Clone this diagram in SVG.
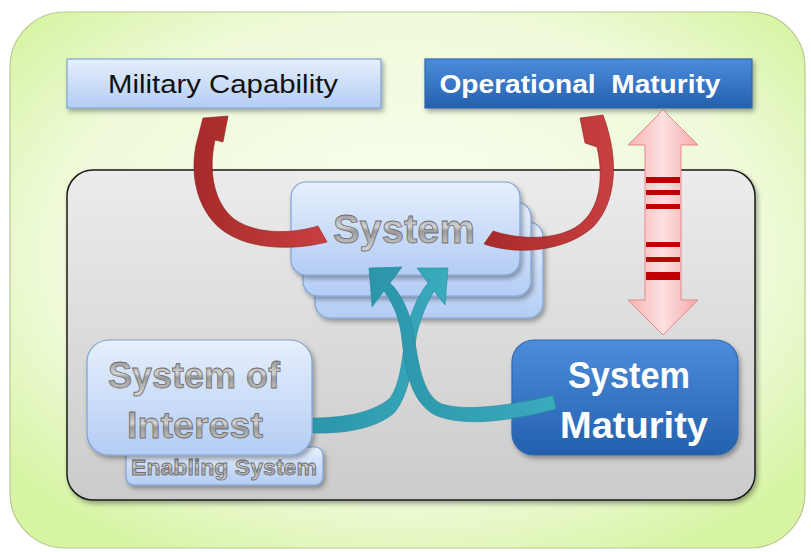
<svg xmlns="http://www.w3.org/2000/svg" width="811" height="552" viewBox="0 0 811 552">
<defs>
  <radialGradient id="gGreen" cx="50%" cy="45%" r="65%">
    <stop offset="0" stop-color="#fbfef4"/>
    <stop offset="0.7" stop-color="#eefad8"/>
    <stop offset="1" stop-color="#d6f4a2"/>
  </radialGradient>
  <linearGradient id="gLight" x1="0" y1="0" x2="0" y2="1">
    <stop offset="0" stop-color="#e6effc"/>
    <stop offset="1" stop-color="#b3cdf4"/>
  </linearGradient>
  <linearGradient id="gDark" x1="0" y1="0" x2="0" y2="1">
    <stop offset="0" stop-color="#4d8ddb"/>
    <stop offset="1" stop-color="#2360ad"/>
  </linearGradient>
  <linearGradient id="gGray" x1="0" y1="0" x2="0" y2="1">
    <stop offset="0" stop-color="#ececec"/>
    <stop offset="1" stop-color="#cbcbcb"/>
  </linearGradient>
  <linearGradient id="gMetal" x1="0" y1="0" x2="0" y2="1">
    <stop offset="0" stop-color="#7c7c7c"/>
    <stop offset="0.45" stop-color="#d4d4d4"/>
    <stop offset="0.55" stop-color="#9a9a9a"/>
    <stop offset="1" stop-color="#d8d8d8"/>
  </linearGradient>
  <linearGradient id="gPink" x1="0" y1="0" x2="1" y2="0">
    <stop offset="0" stop-color="#f6b3b3"/>
    <stop offset="0.5" stop-color="#fde0e0"/>
    <stop offset="1" stop-color="#f4a9a9"/>
  </linearGradient>
  <linearGradient id="gRed" x1="0" y1="0" x2="1" y2="0">
    <stop offset="0" stop-color="#a82a2a"/>
    <stop offset="1" stop-color="#c84040"/>
  </linearGradient>
  <linearGradient id="gTeal" x1="0" y1="0" x2="1" y2="0">
    <stop offset="0" stop-color="#2b95aa"/>
    <stop offset="1" stop-color="#3aaabd"/>
  </linearGradient>
  <filter id="shadow" x="-10%" y="-10%" width="125%" height="130%">
    <feGaussianBlur in="SourceAlpha" stdDeviation="2.5"/>
    <feOffset dx="2" dy="3" result="b"/>
    <feComponentTransfer><feFuncA type="linear" slope="0.35"/></feComponentTransfer>
    <feMerge><feMergeNode/><feMergeNode in="SourceGraphic"/></feMerge>
  </filter>
</defs>
<style>
  .light { fill: url(#gLight); stroke: #7fa3d6; stroke-width: 1.2; filter: url(#shadow); }
  .dark { fill: url(#gDark); stroke: #3266ad; stroke-width: 1.2; filter: url(#shadow); }
  .metal { font-family: "Liberation Sans", Arial, sans-serif; font-weight: bold; fill: url(#gMetal); stroke: #6f6f6f; stroke-width: 0.8; text-anchor: middle; }
  .white { font-family: "Liberation Sans", Arial, sans-serif; font-weight: bold; fill: #ffffff; text-anchor: middle; }
  .plain { font-family: "Liberation Sans", Arial, sans-serif; fill: #111111; text-anchor: middle; }
  .red { fill: url(#gRed); stroke: #8f2020; stroke-width: 0.6; }
  .teal { fill: url(#gTeal); stroke: #23889c; stroke-width: 0.6; }
  .stripe { fill: #c00000; }
</style>

<rect x="10" y="12" width="795" height="536" rx="55" fill="url(#gGreen)" stroke="#b9c994" stroke-width="1.2"/>

<g id="military-capability">
  <rect class="light" x="67" y="59" width="314" height="49"/>
  <text class="plain" x="223" y="93" font-size="25" textLength="230" lengthAdjust="spacingAndGlyphs">Military Capability</text>
</g>

<g id="operational-maturity">
  <rect class="dark" x="425" y="59" width="327" height="49"/>
  <text class="white" x="580" y="93" font-size="25" textLength="281" lengthAdjust="spacingAndGlyphs" xml:space="preserve">Operational  Maturity</text>
</g>

<g id="context">
  <rect x="67" y="170" width="688" height="330" rx="26" fill="url(#gGray)" stroke="#1a1a1a" stroke-width="1.5" filter="url(#shadow)"/>
</g>

<g id="system">
  <rect class="light" x="315" y="222" width="228" height="96" rx="15"/>
  <rect class="light" x="303" y="202" width="228" height="94" rx="15"/>
  <rect class="light" x="291" y="182" width="229" height="93" rx="15"/>
  <text class="metal" x="404" y="243" font-size="40" textLength="142" lengthAdjust="spacingAndGlyphs">System</text>
</g>

<g id="enabling-system">
  <rect class="light" x="126" y="447" width="197" height="38" rx="8"/>
  <text class="metal" x="224" y="475" font-size="22" stroke-width="0.5" textLength="186" lengthAdjust="spacingAndGlyphs">Enabling System</text>
</g>

<g id="system-of-interest">
  <rect class="light" x="87" y="340" width="225" height="115" rx="22"/>
  <text class="metal" x="194" y="388" font-size="36" textLength="172" lengthAdjust="spacingAndGlyphs">System of</text>
  <text class="metal" x="195" y="438" font-size="36" textLength="136" lengthAdjust="spacingAndGlyphs">Interest</text>
</g>

<g id="system-maturity">
  <rect class="dark" x="512" y="340" width="226" height="115" rx="22"/>
  <text class="white" x="629" y="388" font-size="36" textLength="122" lengthAdjust="spacingAndGlyphs">System</text>
  <text class="white" x="634" y="438" font-size="36" textLength="148" lengthAdjust="spacingAndGlyphs">Maturity</text>
</g>

<g id="connectors">
  <!-- pink double arrow -->
  <g id="maturity-link">
    <path d="M663 110 L698 145 L681 145 L681 300 L698 300 L663 335 L628 300 L645 300 L645 145 L628 145 Z" fill="url(#gPink)" stroke="#e58a8a" stroke-width="1"/>
    <rect class="stripe" x="646" y="177" width="34" height="6"/>
    <rect class="stripe" x="646" y="190" width="34" height="5"/>
    <rect class="stripe" x="646" y="204" width="34" height="5"/>
    <rect class="stripe" x="646" y="242" width="34" height="5"/>
    <rect class="stripe" x="646" y="257" width="34" height="5"/>
    <rect class="stripe" x="646" y="272" width="34" height="8"/>
  </g>
  <!-- red curved arrows -->
  <path class="red" d="M327 242 C 300 249, 255 252, 225 232 C 200 215, 189 180, 196 145 L 203 118 L 228 116 L 223 142 L 215 140 C 208 172, 214 203, 234 219 C 258 236, 295 233, 318 226 Z"/>
  <path class="red" d="M484 244 C 518 256, 568 251, 594 226 C 616 202, 620 160, 603 115 L 580 118 L 585 143 L 597 147 C 605 183, 598 213, 576 227 C 555 240, 520 240, 493 231 Z"/>
  <!-- teal crossing arrows -->
  <path class="teal" d="M313 418 C 345 418, 375 412, 390 398 C 400 385, 402 360, 405 340 C 409 315, 418 295, 428 283 L 417 268 L 448 268 L 445 305 L 434 291 C 426 305, 418 322, 415 345 C 412 370, 408 395, 395 412 C 378 428, 345 434, 313 433 Z"/>
  <path class="teal" d="M553 395 C 515 405, 465 412, 442 404 C 422 396, 418 360, 413 330 C 409 310, 400 292, 390 283 L 402 267 L 369 268 L 372 307 L 384 291 C 394 305, 400 320, 402 340 C 406 375, 412 402, 435 415 C 465 428, 515 420, 556 409 Z"/>
</g>
</svg>
